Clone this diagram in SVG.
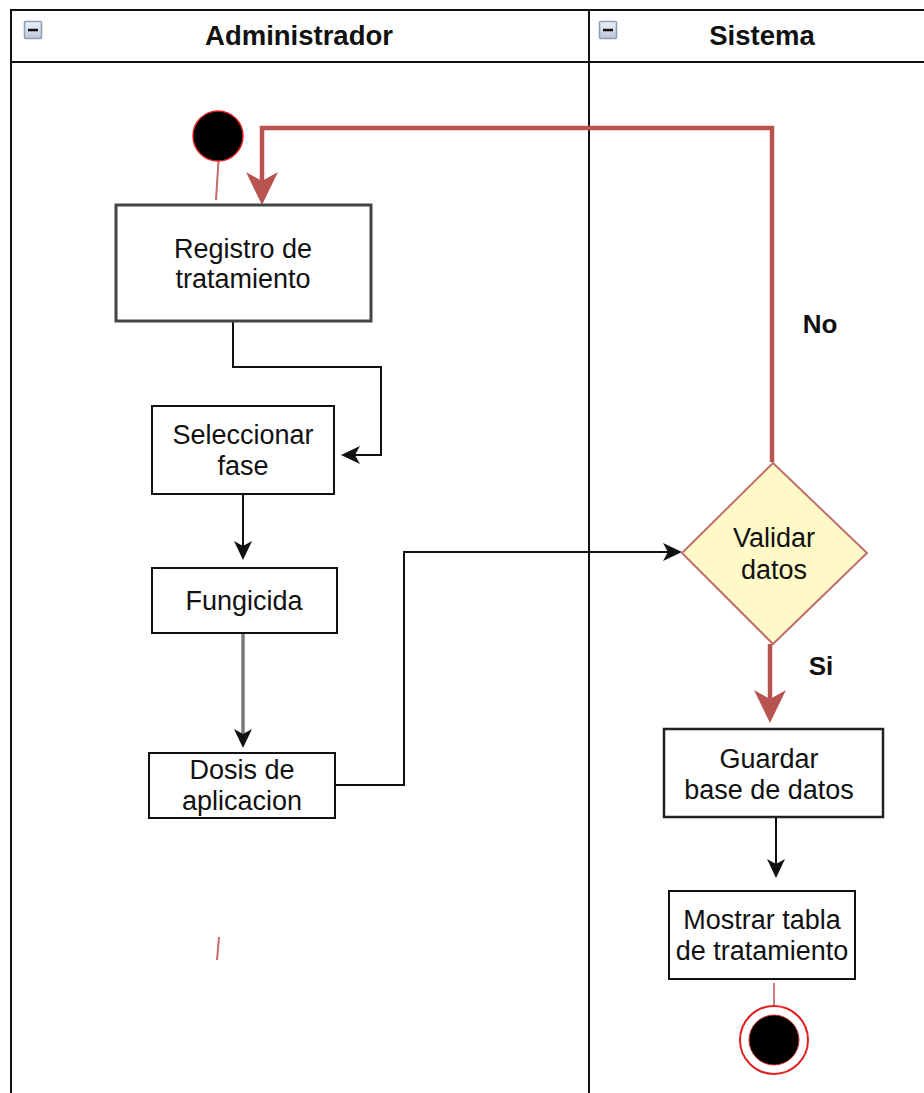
<svg xmlns="http://www.w3.org/2000/svg" width="924" height="1093" viewBox="0 0 924 1093">
  <style>
    .lane { fill: none; stroke: #111; stroke-width: 2; }
    .title { font-family: "Liberation Sans", Arial, sans-serif; font-size: 27.5px; font-weight: bold; fill: #111; text-anchor: middle; }
    .label { font-family: "Liberation Sans", Arial, sans-serif; font-size: 27px; fill: #111; text-anchor: middle; }
    .guard { font-family: "Liberation Sans", Arial, sans-serif; font-size: 26px; font-weight: bold; fill: #111; text-anchor: middle; }
    .act { fill: #fff; stroke: #111; stroke-width: 2; }
    .flow { fill: none; stroke: #111; stroke-width: 2; }
    .flow-red { fill: none; stroke: #b85450; stroke-width: 4.5; }
    .toggle { fill: url(#toggleFill); stroke: #8d9cb8; stroke-width: 1.5; }
  </style>
  <defs>
    <linearGradient id="toggleFill" x1="0" y1="0" x2="0" y2="1">
      <stop offset="0" stop-color="#eef1f7"/>
      <stop offset="1" stop-color="#bcc5d6"/>
    </linearGradient>
    <marker id="arrowBlack" markerUnits="userSpaceOnUse" markerWidth="22" markerHeight="22" refX="15" refY="10" orient="auto">
      <path d="M0,1 L19,10 L0,19 L5,10 Z" fill="#111"/>
    </marker>
    <marker id="arrowRed" markerUnits="userSpaceOnUse" markerWidth="36" markerHeight="36" refX="23" refY="17" orient="auto">
      <path d="M0,1 L33,17 L0,33 L9,17 Z" fill="#b85450"/>
    </marker>
  </defs>

  <!-- swimlane pool -->
  <g id="pool">
    <path class="lane" d="M11,1093 V10 H924"/>
    <path class="lane" d="M11,62 H924"/>
    <path class="lane" d="M589,10 V1093"/>
  </g>

  <g id="lane-administrador">
    <rect class="toggle" x="24.5" y="21.5" width="17" height="17" rx="1"/>
    <rect x="28" y="28.8" width="10" height="2.5" fill="#111"/>
    <text class="title" x="299" y="45">Administrador</text>
  </g>

  <g id="lane-sistema">
    <rect class="toggle" x="599.5" y="21.5" width="17" height="17" rx="1"/>
    <rect x="603" y="28.8" width="10" height="2.5" fill="#111"/>
    <text class="title" x="762" y="45">Sistema</text>
  </g>

  <!-- connectors -->
  <g id="connectors">
    <line x1="219" y1="153" x2="216" y2="200" stroke="#c46a6a" stroke-width="2"/>
    <path class="flow-red" d="M772,462 V128 H262 V195" marker-end="url(#arrowRed)"/>
    <path class="flow" d="M233,321 V367 H381 V455 H345" marker-end="url(#arrowBlack)"/>
    <path class="flow" d="M243,494 V556" marker-end="url(#arrowBlack)"/>
    <path fill="none" stroke="#7a7a7a" stroke-width="3.5" d="M243,633 V744" marker-end="url(#arrowBlack)"/>
    <path class="flow" d="M335,785 H404 V552 H678" marker-end="url(#arrowBlack)"/>
    <path class="flow-red" d="M770,644 V713" marker-end="url(#arrowRed)"/>
    <path class="flow" d="M776,817 V874" marker-end="url(#arrowBlack)"/>
    <line x1="774" y1="983" x2="774" y2="1006" stroke="#b85450" stroke-width="1.5"/>
    <line x1="219" y1="937" x2="217" y2="960" stroke="#c46a6a" stroke-width="2"/>
    <text class="guard" x="820" y="333">No</text>
    <text class="guard" x="821" y="675">Si</text>
  </g>

  <!-- activity nodes -->
  <g id="start">
    <circle cx="218" cy="136" r="25" fill="#000" stroke="#e02020" stroke-width="1.5"/>
  </g>

  <g id="registro">
    <rect x="116" y="205" width="255" height="116" fill="#fff" stroke="#444" stroke-width="3"/>
    <text class="label" x="243" y="258">Registro de</text>
    <text class="label" x="243" y="288">tratamiento</text>
  </g>

  <g id="seleccionar">
    <rect class="act" x="152" y="406" width="182" height="88"/>
    <text class="label" x="243" y="444">Seleccionar</text>
    <text class="label" x="243" y="475">fase</text>
  </g>

  <g id="fungicida">
    <rect class="act" x="152" y="568" width="185" height="65"/>
    <text class="label" x="244" y="610">Fungicida</text>
  </g>

  <g id="dosis">
    <rect class="act" x="149" y="753" width="186" height="65"/>
    <text class="label" x="242" y="779">Dosis de</text>
    <text class="label" x="242" y="810">aplicacion</text>
  </g>

  <g id="validar">
    <path d="M773,463 L867,553 L773,644 L682,553 Z" fill="#fff9c8" stroke="#c0706c" stroke-width="2"/>
    <text class="label" x="774" y="547">Validar</text>
    <text class="label" x="774" y="579">datos</text>
  </g>

  <g id="guardar">
    <rect x="664" y="729" width="219" height="88" fill="#fff" stroke="#222" stroke-width="2.5"/>
    <text class="label" x="769" y="768">Guardar</text>
    <text class="label" x="769" y="799">base de datos</text>
  </g>

  <g id="mostrar">
    <rect class="act" x="669" y="891" width="186" height="88"/>
    <text class="label" x="762" y="929">Mostrar tabla</text>
    <text class="label" x="762" y="960">de tratamiento</text>
  </g>

  <g id="end">
    <circle cx="774" cy="1040" r="34" fill="#fff" stroke="#e02020" stroke-width="2"/>
    <circle cx="774" cy="1040" r="25" fill="#000" stroke="#d03030" stroke-width="1"/>
  </g>
</svg>
